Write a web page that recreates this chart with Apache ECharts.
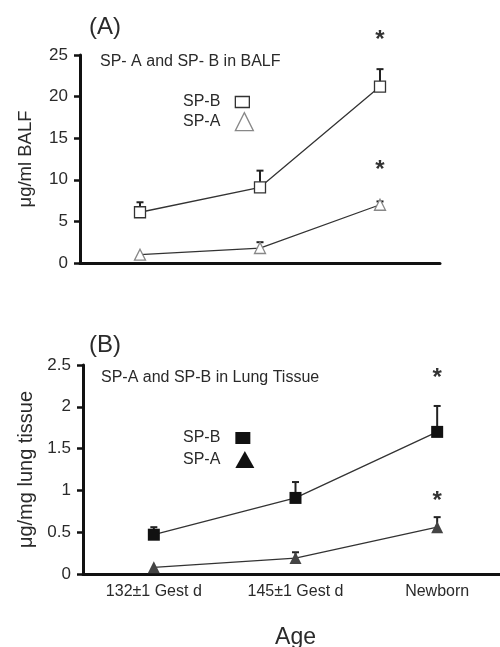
<!DOCTYPE html>
<html>
<head>
<meta charset="utf-8">
<script src="https://cdn.jsdelivr.net/npm/echarts@6/dist/echarts.min.js"></script>
<style>
  html, body { margin: 0; padding: 0; background: #fff; }
  #chart { width: 500px; height: 647px; }
</style>
</head>
<body>
<div id="chart"></div>
<script>
// Age groups shared by both panels
const categories = ['132\u00b11 Gest d', '145\u00b11 Gest d', 'Newborn'];

// (A) surfactant proteins in BALF, µg/ml (mean and upper error)
const balfSPB = [6.1, 9.1, 21.2];
const balfSPBErr = [1.2, 2.0, 2.1];
const balfSPA = [1.0, 1.8, 7.0];
const balfSPAErr = [0, 0.7, 0.4];

// (B) surfactant proteins in lung tissue, µg/mg (mean and upper error)
const tissueSPB = [0.47, 0.91, 1.70];
const tissueSPBErr = [0.09, 0.19, 0.31];
const tissueSPA = [0.08, 0.19, 0.56];
const tissueSPAErr = [0, 0.07, 0.12];

// groups marked as significantly different
const significant = [false, false, true];

// y-axis ticks
const balfTicks = { min: 0, max: 25, interval: 5 };
const tissueTicks = { min: 0, max: 2.5, interval: 0.5 };

const FONT = '"Liberation Sans", Arial, sans-serif';
const TXT = '#2a2a2a';

function errSeries(name, idx, values, errs, starOffset) {
  return {
    name: name,
    type: 'custom',
    xAxisIndex: idx,
    yAxisIndex: idx,
    z: 1,
    silent: true,
    data: values.map((v, i) => [i, v, errs[i], significant[i] ? 1 : 0]),
    renderItem: function (params, api) {
      const x = api.value(0);
      const v = api.value(1);
      const e = api.value(2);
      const base = api.coord([x, v]);
      const top = api.coord([x, v + e]);
      const children = [];
      if (e > 0) {
        children.push({
          type: 'line',
          shape: { x1: base[0], y1: base[1], x2: top[0], y2: top[1] },
          style: { stroke: '#222', lineWidth: 2 }
        });
        children.push({
          type: 'line',
          shape: { x1: top[0] - 3.5, y1: top[1], x2: top[0] + 3.5, y2: top[1] },
          style: { stroke: '#222', lineWidth: 2 }
        });
      }
      if (api.value(3)) {
        children.push({
          type: 'text',
          style: {
            text: '*', x: top[0], y: top[1] - starOffset + 3,
            fill: '#333', font: 'bold 24px ' + FONT,
            textAlign: 'center', textVerticalAlign: 'middle'
          }
        });
      }
      return { type: 'group', children: children };
    }
  };
}

function lineSeries(name, idx, values, symbol, size, itemStyle) {
  return {
    name: name,
    type: 'line',
    xAxisIndex: idx,
    yAxisIndex: idx,
    z: 3,
    data: values,
    symbol: symbol,
    symbolSize: size,
    showAllSymbol: true,
    lineStyle: { color: '#333', width: 1.3 },
    itemStyle: itemStyle,
    emphasis: { disabled: true }
  };
}

function legendItem(name, left, top, icon, w, h, itemStyle) {
  return {
    orient: 'vertical', left: left, top: top, align: 'right', padding: 0,
    itemWidth: w, itemHeight: h,
    selectedMode: false,
    data: [{ name: name, icon: icon, itemStyle: itemStyle }],
    formatter: n => n.split('|')[0],
    textStyle: { color: TXT, fontSize: 16, fontFamily: FONT, padding: [0, 10, 0, 0] }
  };
}

function label(text, x, y, size) {
  return {
    type: 'text', x: x, y: y,
    style: { text: text, fill: TXT, font: size + 'px ' + FONT, textAlign: 'left', textVerticalAlign: 'middle' }
  };
}

const yAxisCommon = {
  type: 'value',
  splitLine: { show: false },
  axisLine: { show: true, lineStyle: { color: '#111', width: 3 } },
  axisTick: { show: true, length: 6, lineStyle: { color: '#111', width: 2.5 } },
  axisLabel: { color: TXT, fontSize: 17, fontFamily: FONT, margin: 12 },
  nameLocation: 'middle'
};

const xAxisCommon = {
  type: 'category',
  data: categories,
  boundaryGap: true,
  axisLine: { show: true, lineStyle: { color: '#111', width: 3 } },
  axisTick: { show: false }
};

const chart = echarts.init(document.getElementById('chart'), null, { renderer: 'canvas' });

chart.setOption({
  animation: false,
  backgroundColor: '#fff',
  textStyle: { fontFamily: FONT },
  graphic: [
    label('(A)', 89, 27, 24),
    label('SP- A and SP- B in BALF', 100, 62, 16),
    label('(B)', 89, 345, 24),
    label('SP-A and SP-B in Lung Tissue', 101, 378, 16)
  ],
  legend: [
    legendItem('SP-B|A', 183, 94, 'rect', 14, 11, { color: '#fff', borderColor: '#333', borderWidth: 1.3 }),
    legendItem('SP-A|A', 183, 112, 'triangle', 18, 18, { color: '#fff', borderColor: '#888', borderWidth: 1.3 }),
    legendItem('SP-B|B', 183, 430, 'rect', 15, 12, { color: '#111', borderWidth: 0 }),
    legendItem('SP-A|B', 183, 451, 'triangle', 19, 17, { color: '#111', borderWidth: 0 })
  ],
  grid: [
    { left: 80, top: 55, width: 360, height: 208, outerBoundsMode: 'none' },
    { left: 83, top: 365, width: 425, height: 209, outerBoundsMode: 'none' }
  ],
  xAxis: [
    Object.assign({}, xAxisCommon, { gridIndex: 0, axisLabel: { show: false } }),
    Object.assign({}, xAxisCommon, {
      gridIndex: 1,
      axisLabel: { color: TXT, fontSize: 16, fontFamily: FONT, margin: 10 },
      name: 'Age', nameLocation: 'middle', nameGap: 52,
      nameTextStyle: { color: TXT, fontSize: 23, fontFamily: FONT }
    })
  ],
  yAxis: [
    Object.assign({}, yAxisCommon, {
      gridIndex: 0, min: balfTicks.min, max: balfTicks.max, interval: balfTicks.interval,
      name: '\u03bcg/ml BALF', nameGap: 45,
      nameTextStyle: { color: TXT, fontSize: 18.5, fontFamily: FONT }
    }),
    Object.assign({}, yAxisCommon, {
      gridIndex: 1, min: tissueTicks.min, max: tissueTicks.max, interval: tissueTicks.interval,
      name: '\u03bcg/mg lung tissue', nameGap: 47,
      nameTextStyle: { color: TXT, fontSize: 20, fontFamily: FONT }
    })
  ],
  series: [
    errSeries('errB-A', 0, balfSPB, balfSPBErr, 32),
    errSeries('errA-A', 0, balfSPA, balfSPAErr, 34),
    lineSeries('SP-B|A', 0, balfSPB, 'rect', [11, 11], { color: '#fff', borderColor: '#333', borderWidth: 1.3 }),
    lineSeries('SP-A|A', 0, balfSPA, 'triangle', [11, 11], { color: '#fff', borderColor: '#888', borderWidth: 1.3 }),
    errSeries('errB-B', 1, tissueSPB, tissueSPBErr, 31),
    errSeries('errA-B', 1, tissueSPA, tissueSPAErr, 19),
    lineSeries('SP-B|B', 1, tissueSPB, 'rect', [12, 12], { color: '#111', borderColor: '#111', borderWidth: 0 }),
    lineSeries('SP-A|B', 1, tissueSPA, 'triangle', [12, 12], { color: '#444', borderColor: '#444', borderWidth: 0 })
  ]
});
</script>
</body>
</html>
